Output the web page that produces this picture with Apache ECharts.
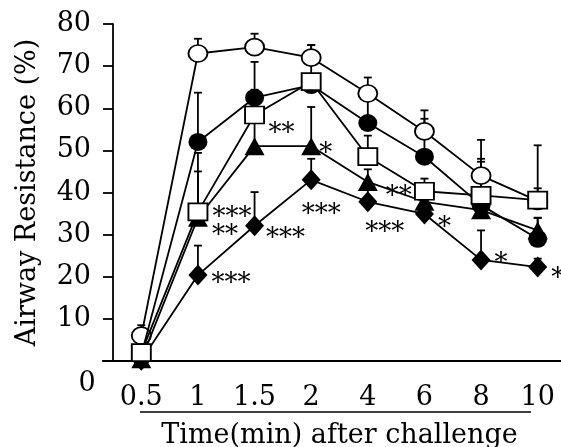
<!DOCTYPE html>
<html>
<head>
<meta charset="utf-8">
<script src="https://cdn.jsdelivr.net/npm/echarts@6/dist/echarts.min.js"></script>
<style>
  html, body { margin: 0; padding: 0; background: #fff; }
  #chart { width: 561px; height: 447px; }
</style>
</head>
<body>
<div id="chart"></div>
<script>
// time points (min after challenge)
const times = ['0.5', '1', '1.5', '2', '4', '6', '8', '10'];
const yTicks = [0, 10, 20, 30, 40, 50, 60, 70, 80];

// mean airway resistance (%) and upper error (SEM) per group
const openCircle = [6, 73, 74.5, 72, 63.5, 54.5, 44, 38];
const openCircleErr = [2.5, 3.5, 3.2, 3, 3.8, 5, 8.5, 3];
const filledCircle = [1.5, 52, 62.5, 65.5, 56.5, 48.5, 37, 29];
const filledCircleErr = [0, 11.7, 8.5, 0, 7, 9, 11, 5];
const openSquare = [2, 35.4, 58.4, 66.3, 48.5, 40.3, 39.3, 38.2];
const openSquareErr = [0, 14, 6, 8.7, 5, 3, 8, 13];
const filledTriangle = [0.4, 34, 51, 51, 42.5, 37.8, 35.8, 31];
const filledTriangleErr = [0, 11, 6, 9.3, 3, 3, 3, 3];
const filledDiamond = [0.2, 20.4, 32.1, 43, 37.8, 34.9, 24, 22.3];
const filledDiamondErr = [0, 7, 8, 5, 3, 3, 7, 2];

// significance marks
const squareStars = ['', '***', '', '', '', '', '', ''];
const triangleStars = ['', '**', '**', '*', '**', '', '', ''];
const diamondStars = ['', '***', '***', '***', '***', '*', '*', '*'];

const FONT = 'DejaVu Serif';
const LW = 1.8;

// label placement for the stars (style only)
const starPos = {
    square: [null, { position: 'right', offset: [0, 6] }],
    triangle: [null,
        { position: 'right', offset: [0, 18] },
        { position: 'right', offset: [0, -12] },
        { position: 'right', offset: [-6, 8] },
        { position: 'right', offset: [4, 15] }],
    diamond: [null,
        { position: 'right', offset: [0, 9] },
        { position: 'right', offset: [-2, 13] },
        { position: 'bottom', offset: [10, 8] },
        { position: 'bottom', offset: [17, 4] },
        { position: 'right', offset: [0, 14] },
        { position: 'right', offset: [0, 4] },
        { position: 'right', offset: [0, 12] }]
};

const buildData = (vals, stars, pos) => vals.map((v, i) => {
    const s = stars ? stars[i] : '';
    if (!s) return v;
    const p = pos[i] || { position: 'right', offset: [0, 6] };
    return {
        value: v,
        label: {
            show: true,
            formatter: s,
            position: p.position,
            offset: p.offset,
            distance: 4,
            fontFamily: FONT,
            fontSize: 26,
            color: '#000'
        }
    };
});

const errSeries = (vals, errs) => ({
    type: 'custom',
    z: 1,
    silent: true,
    data: vals.map((v, i) => [i, v, v + errs[i]]),
    renderItem: (params, api) => {
        if (api.value(2) <= api.value(1)) return null;
        const lo = api.coord([api.value(0), api.value(1)]);
        const hi = api.coord([api.value(0), api.value(2)]);
        const cap = 4;
        return {
            type: 'group',
            children: [
                { type: 'line', shape: { x1: lo[0], y1: lo[1], x2: hi[0], y2: hi[1] }, style: { stroke: '#000', lineWidth: LW } },
                { type: 'line', shape: { x1: hi[0] - cap, y1: hi[1], x2: hi[0] + cap, y2: hi[1] }, style: { stroke: '#000', lineWidth: LW } }
            ]
        };
    }
});

const lineSeries = (name, vals, symbol, size, open, stars, pos, z) => ({
    name: name,
    type: 'line',
    z: z,
    data: buildData(vals, stars, pos),
    symbol: symbol,
    symbolSize: size,
    showAllSymbol: true,
    lineStyle: { color: '#000', width: LW },
    itemStyle: open
        ? { color: '#fff', borderColor: '#000', borderWidth: LW }
        : { color: '#000', borderColor: '#000', borderWidth: 0 },
    emphasis: { disabled: true },
    animation: false
});

const diamond = 'path://M0,-1 L1,0 L0,1 L-1,0 Z';

const myChart = echarts.init(document.getElementById('chart'));
myChart.setOption({
    animation: false,
    grid: { left: 113, right: -5, top: 24, bottom: 86, outerBoundsMode: 'none', containLabel: false },
    xAxis: {
        type: 'category',
        data: times,
        boundaryGap: true,
        name: 'Time(min) after challenge',
        nameLocation: 'middle',
        nameGap: 61,
        nameTextStyle: { fontFamily: FONT, fontSize: 27, color: '#000' },
        axisLine: { lineStyle: { color: '#000', width: LW } },
        axisTick: { alignWithLabel: true, length: 9, lineStyle: { color: '#000', width: LW } },
        axisLabel: { fontFamily: FONT, fontSize: 27, color: '#000', margin: 23 },
        splitLine: { show: false }
    },
    yAxis: {
        type: 'value',
        min: yTicks[0],
        max: yTicks[yTicks.length - 1],
        interval: 10,
        name: 'Airway Resistance (%)',
        nameLocation: 'middle',
        nameGap: 72,
        nameTextStyle: { fontFamily: FONT, fontSize: 27, color: '#000' },
        axisLine: { show: true, lineStyle: { color: '#000', width: LW } },
        axisTick: { show: true, length: 10, lineStyle: { color: '#000', width: LW } },
        axisLabel: {
            fontFamily: FONT, fontSize: 27, color: '#000', margin: 22,
            formatter: v => (v === 0 ? '' : String(v))
        },
        splitLine: { show: false }
    },
    graphic: [
        { type: 'line', shape: { x1: 102, y1: 361, x2: 114, y2: 361 }, style: { stroke: '#000', lineWidth: LW } },
        { type: 'line', shape: { x1: 140, y1: 412, x2: 531, y2: 412 }, style: { stroke: '#000', lineWidth: 1.5 } },
        { type: 'text', x: 87, y: 384, style: { text: '0', fontFamily: FONT, fontSize: 27, fill: '#000', align: 'center', verticalAlign: 'middle' } }
    ],
    series: [
        errSeries(openCircle, openCircleErr),
        errSeries(filledCircle, filledCircleErr),
        errSeries(openSquare, openSquareErr),
        errSeries(filledTriangle, filledTriangleErr),
        errSeries(filledDiamond, filledDiamondErr),
        lineSeries('openCircle', openCircle, 'circle', [19, 17], true, null, null, 3),
        lineSeries('diamond', filledDiamond, diamond, [19, 21], false, diamondStars, starPos.diamond, 4),
        lineSeries('triangle', filledTriangle, 'triangle', [20, 18], false, triangleStars, starPos.triangle, 5),
        lineSeries('filledCircle', filledCircle, 'circle', [19, 18], false, null, null, 6),
        lineSeries('square', openSquare, 'rect', [19, 17], true, squareStars, starPos.square, 7)
    ]
});
</script>
</body>
</html>
